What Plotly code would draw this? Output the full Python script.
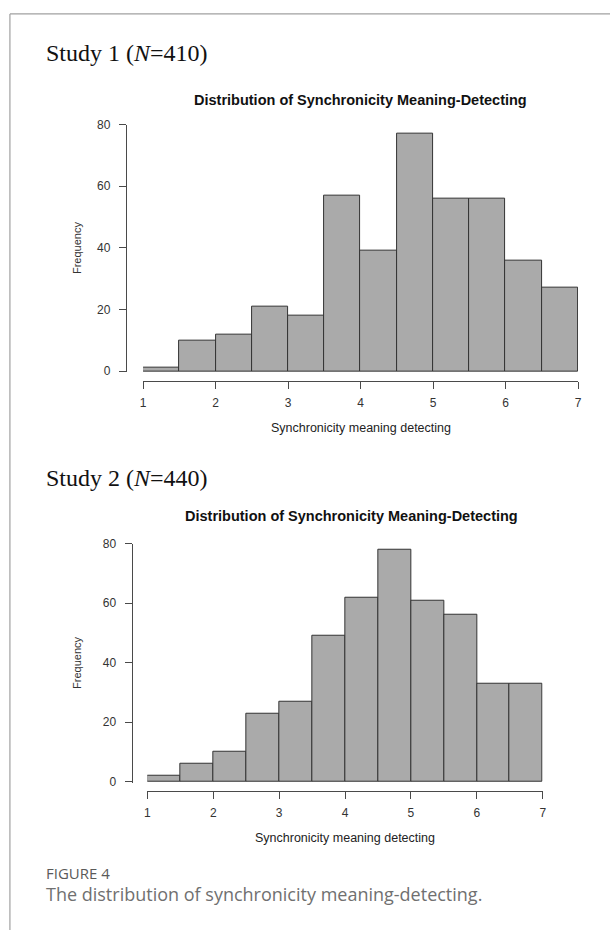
import plotly.graph_objects as go

W, H = 614, 936

# ---- data ----
bin_left = [1.0, 1.5, 2.0, 2.5, 3.0, 3.5, 4.0, 4.5, 5.0, 5.5, 6.0, 6.5]
bin_width = 0.5
study1_counts = [1, 10, 12, 21, 18, 57, 39, 77, 56, 56, 36, 27]
study2_counts = [2, 6, 10, 23, 27, 49, 62, 78, 61, 56, 33, 33]
x_ticks = [1, 2, 3, 4, 5, 6, 7]
y_ticks = [0, 20, 40, 60, 80]
study_labels = ["Study 1 (<i>N</i>=410)", "Study 2 (<i>N</i>=440)"]
plot_title = "Distribution of Synchronicity Meaning-Detecting"
x_title = "Synchronicity meaning detecting"
y_title = "Frequency"
fig_label = "FIGURE 4"
caption = "The distribution of synchronicity meaning-detecting."


def px(x):
    """page pixel x -> paper fraction"""
    return x / W


def py(y):
    """page pixel y -> paper fraction"""
    return 1 - y / H


BAR_FILL = "#AAAAAA"
BAR_LINE = "#333333"
AXIS_COL = "#4a4a4a"
TXT_COL = "#333333"
SANS = "Liberation Sans, Arial, sans-serif"

centers = [l + bin_width / 2 for l in bin_left]

fig = go.Figure()
fig.add_trace(go.Bar(x=centers, y=study1_counts, width=bin_width,
                     marker=dict(color=BAR_FILL, line=dict(color=BAR_LINE, width=1)),
                     xaxis="x", yaxis="y", showlegend=False, hoverinfo="skip"))
fig.add_trace(go.Bar(x=centers, y=study2_counts, width=bin_width,
                     marker=dict(color=BAR_FILL, line=dict(color=BAR_LINE, width=1)),
                     xaxis="x2", yaxis="y2", showlegend=False, hoverinfo="skip"))

# page-pixel geometry of the two panels
panels = [
    dict(x0=141.7, x1=581.7, y80=119.3, y0=369.3, yax=124.3, xax=379.3,
         study_y=47, title_y=94, title_x=362, xtitle_y=427),
    dict(x0=146.0, x1=546.0, y80=544.3, y0=785.7, yax=130.0, xax=795.0,
         study_y=478, title_y=516, title_x=353, xtitle_y=843),
]

common_x = dict(range=[1, 7], tickvals=x_ticks, showline=True, linecolor=AXIS_COL, linewidth=1,
                ticks="outside", ticklen=7, tickwidth=1, tickcolor=AXIS_COL, showgrid=False,
                zeroline=False, tickfont=dict(family=SANS, size=12, color=TXT_COL),
                anchor="free", ticklabelstandoff=4, fixedrange=True)
common_y = dict(tickvals=y_ticks, showline=True, linecolor=AXIS_COL, linewidth=1,
                ticks="outside", ticklen=7, tickwidth=1, tickcolor=AXIS_COL, showgrid=False,
                zeroline=False, tickfont=dict(family=SANS, size=12, color=TXT_COL),
                anchor="free", ticklabelstandoff=6, fixedrange=True)

axes = {}
annotations = []
for i, p in enumerate(panels):
    ppu = (p["y0"] - p["y80"]) / 80.0
    ymin = -0.4
    ybottom = p["y0"] - ymin * ppu
    sx = "" if i == 0 else str(i + 1)
    axes["xaxis" + sx] = dict(common_x, domain=[px(p["x0"]), px(p["x1"])], position=py(p["xax"]))
    axes["yaxis" + sx] = dict(common_y, domain=[py(ybottom), py(p["y80"])], range=[ymin, 80],
                              position=px(p["yax"]))

    annotations.append(dict(text=study_labels[i], x=px(41.7), y=py(p["study_y"]),
                            xref="paper", yref="paper", xanchor="left", yanchor="middle",
                            showarrow=False,
                            font=dict(family="Liberation Serif, Times New Roman, serif", size=24,
                                      color="#111111")))
    annotations.append(dict(text="<b>" + plot_title + "</b>", x=px(p["title_x"]), y=py(p["title_y"]),
                            xref="paper", yref="paper", xanchor="center", yanchor="middle",
                            showarrow=False, font=dict(family=SANS, size=14.5, color="#111111")))
    annotations.append(dict(text=x_title, x=px((p["x0"] + p["x1"]) / 2), y=py(p["xtitle_y"]),
                            xref="paper", yref="paper", xanchor="center", yanchor="middle",
                            showarrow=False, font=dict(family=SANS, size=12.5, color="#222222")))
    annotations.append(dict(text=y_title, x=px(75), y=py((p["y80"] + p["y0"]) / 2), textangle=-90,
                            xref="paper", yref="paper", xanchor="center", yanchor="middle",
                            showarrow=False, font=dict(family=SANS, size=11, color=TXT_COL)))

annotations.append(dict(text=fig_label, x=px(41.7), y=py(878), xref="paper", yref="paper",
                        xanchor="left", yanchor="middle", showarrow=False,
                        font=dict(family="Open Sans, sans-serif", size=15, color="#5a5a5a")))
annotations.append(dict(text=caption, x=px(41.7), y=py(899), xref="paper", yref="paper",
                        xanchor="left", yanchor="middle", showarrow=False,
                        font=dict(family="Open Sans, sans-serif", size=18, color="#707070")))

# thin frame (top and left) of the figure box
shapes = [
    dict(type="line", xref="paper", yref="paper", x0=px(7), x1=1, y0=py(7), y1=py(7),
         line=dict(color="#A0A0A0", width=1.2)),
    dict(type="line", xref="paper", yref="paper", x0=px(7), x1=px(7), y0=py(7), y1=0,
         line=dict(color="#A0A0A0", width=1.2)),
]

fig.update_layout(width=W, height=H, margin=dict(l=0, r=0, t=0, b=0),
                  paper_bgcolor="white", plot_bgcolor="white", bargap=0,
                  annotations=annotations, shapes=shapes, showlegend=False, **axes)

fig.write_html("out.html", config={"displayModeBar": False},
               post_script="document.documentElement.style.margin='0';"
                           "document.body.style.margin='0';document.body.style.padding='0';"
                           "document.body.style.overflow='hidden';")
